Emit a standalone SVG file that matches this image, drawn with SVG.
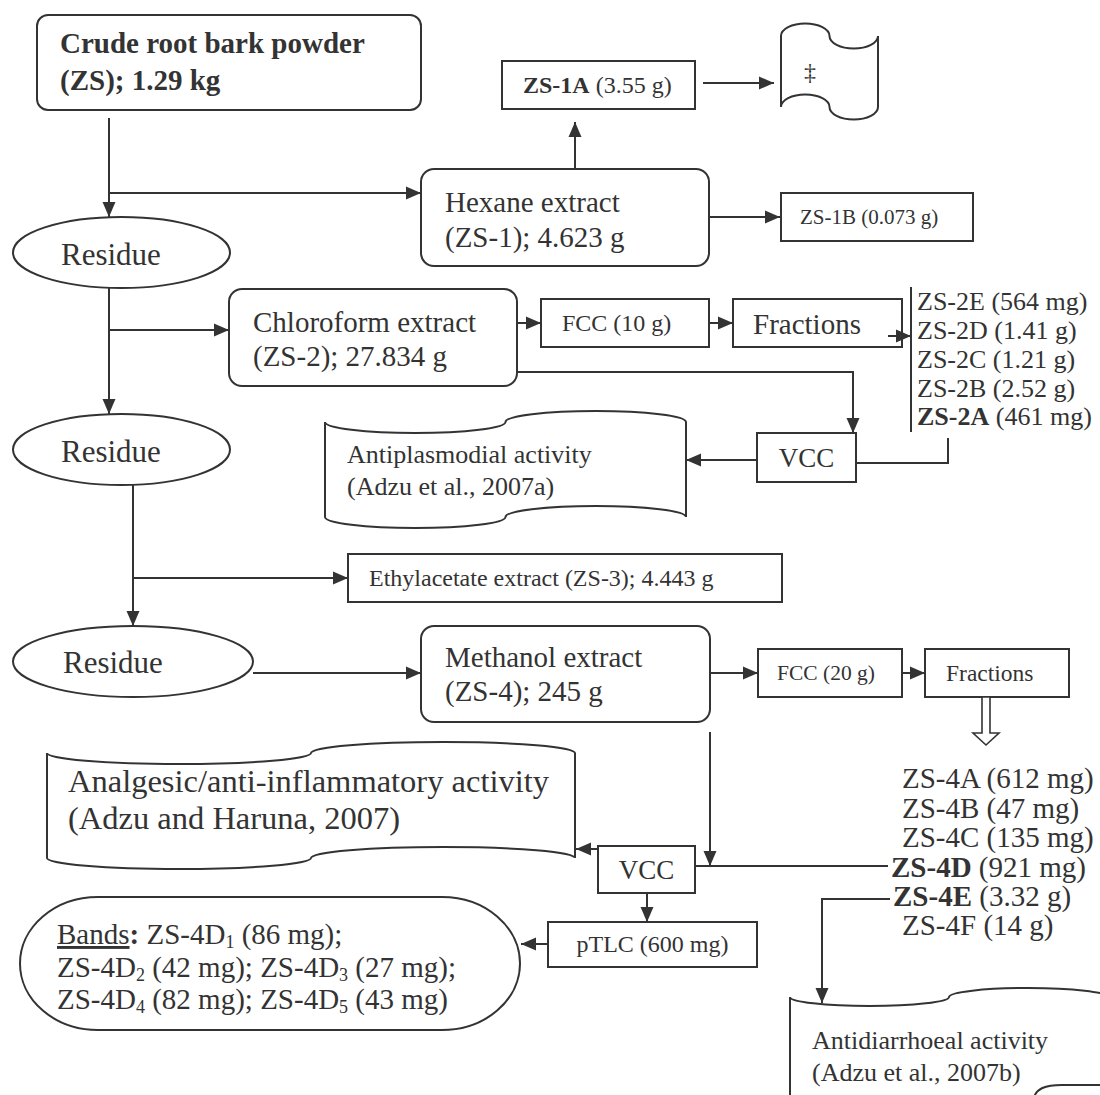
<svg xmlns="http://www.w3.org/2000/svg" width="1100" height="1095" viewBox="0 0 1100 1095">
<style>
.box{fill:#fff;stroke:#333;stroke-width:2}
.ln{fill:none;stroke:#333;stroke-width:2}
.t{font-family:"Liberation Serif","Times New Roman",serif;fill:#333}
.b{font-weight:bold}
</style>
<defs>
<marker id="ah" markerUnits="userSpaceOnUse" markerWidth="16" markerHeight="14" refX="15" refY="7" orient="auto">
<path d="M0,0.5 L15,7 L0,13.5 Z" fill="#333"/>
</marker>
</defs>
<rect width="1100" height="1095" fill="#fff"/>

<g id="crude">
<rect class="box" x="37" y="15" width="384" height="95" rx="11"/>
<text class="t b" font-size="29"><tspan x="60" y="53">Crude root bark powder</tspan><tspan x="60" y="90">(ZS); 1.29 kg</tspan></text>
</g>

<g id="zs1a">
<rect class="box" x="502" y="61" width="193" height="48"/>
<text class="t" font-size="24" x="523" y="93"><tspan class="b">ZS-1A</tspan> (3.55 g)</text>
</g>

<g id="tape">
<path class="box" d="M781,36 A24.25,12.5 0 0 1 829.5,36 A24.25,12.5 0 0 0 878,36 L878,107 A24.25,12.5 0 0 1 829.5,107 A24.25,12.5 0 0 0 781,107 Z"/>
<text class="t" font-size="24" x="804" y="80">‡</text>
</g>

<g id="hexane">
<rect class="box" x="421" y="169" width="288" height="97" rx="13"/>
<text class="t" font-size="29"><tspan x="445" y="212">Hexane extract</tspan><tspan x="445" y="247">(ZS-1); 4.623 g</tspan></text>
</g>

<g id="zs1b">
<rect class="box" x="781" y="193" width="192" height="48"/>
<text class="t" font-size="21" x="800" y="224">ZS-1B (0.073 g)</text>
</g>

<g id="residue1">
<ellipse class="box" cx="121.5" cy="252.5" rx="108.5" ry="35.5"/>
<text class="t" font-size="31" x="61" y="265">Residue</text>
</g>

<g id="chloroform">
<rect class="box" x="229" y="289" width="288" height="97" rx="13"/>
<text class="t" font-size="29"><tspan x="253" y="332">Chloroform extract</tspan><tspan x="253" y="366">(ZS-2); 27.834 g</tspan></text>
</g>

<g id="fcc10">
<rect class="box" x="541" y="299" width="168" height="48"/>
<text class="t" font-size="24" x="562" y="331">FCC (10 g)</text>
</g>

<g id="fractions1">
<rect class="box" x="733" y="299" width="169" height="48"/>
<text class="t" font-size="29" x="753" y="334">Fractions</text>
</g>

<g id="list2">
<text class="t" font-size="26">
<tspan x="917" y="310">ZS-2E (564 mg)</tspan>
<tspan x="917" y="339">ZS-2D (1.41 g)</tspan>
<tspan x="917" y="368">ZS-2C (1.21 g)</tspan>
<tspan x="917" y="397">ZS-2B (2.52 g)</tspan>
<tspan x="917" y="425"><tspan class="b">ZS-2A</tspan> (461 mg)</tspan>
</text>
</g>

<g id="residue2">
<ellipse class="box" cx="121.5" cy="449.5" rx="108.5" ry="35.5"/>
<text class="t" font-size="31" x="61" y="462">Residue</text>
</g>

<g id="antiplasmodial">
<path class="box" d="M325,422 A90.25,11 0 0 0 505.5,422 A90.25,11 0 0 1 686,422 L686,517 A90.25,11 0 0 0 505.5,517 A90.25,11 0 0 1 325,517 Z"/>
<text class="t" font-size="26"><tspan x="347" y="463">Antiplasmodial activity</tspan><tspan x="347" y="495">(Adzu et al., 2007a)</tspan></text>
</g>

<g id="vcc1">
<rect class="box" x="757" y="433" width="99" height="49"/>
<text class="t" font-size="27" x="806.5" y="467" text-anchor="middle">VCC</text>
</g>

<g id="ethylacetate">
<rect class="box" x="348" y="554" width="434" height="48"/>
<text class="t" font-size="24" x="369" y="586">Ethylacetate extract (ZS-3); 4.443 g</text>
</g>

<g id="residue3">
<ellipse class="box" cx="133" cy="661.5" rx="120" ry="35.5"/>
<text class="t" font-size="31" x="63" y="673">Residue</text>
</g>

<g id="methanol">
<rect class="box" x="421" y="626" width="289" height="96" rx="13"/>
<text class="t" font-size="29"><tspan x="445" y="667">Methanol extract</tspan><tspan x="445" y="701">(ZS-4); 245 g</tspan></text>
</g>

<g id="fcc20">
<rect class="box" x="758" y="649" width="144" height="48"/>
<text class="t" font-size="21.5" x="777" y="680">FCC (20 g)</text>
</g>

<g id="fractions2">
<rect class="box" x="925" y="649" width="144" height="48"/>
<text class="t" font-size="23.5" x="946" y="681">Fractions</text>
</g>

<g id="list4">
<text class="t" font-size="29">
<tspan x="902" y="788">ZS-4A (612 mg)</tspan>
<tspan x="902" y="818">ZS-4B (47 mg)</tspan>
<tspan x="902" y="847">ZS-4C (135 mg)</tspan>
<tspan x="891" y="877"><tspan class="b">ZS-4D</tspan> (921 mg)</tspan>
<tspan x="893" y="906"><tspan class="b">ZS-4E</tspan> (3.32 g)</tspan>
<tspan x="902" y="935">ZS-4F (14 g)</tspan>
</text>
</g>

<g id="analgesic">
<path class="box" d="M47,753 A132,11 0 0 0 311,753 A132,11 0 0 1 575,753 L575,858 A132,11 0 0 0 311,858 A132,11 0 0 1 47,858 Z"/>
<text class="t" font-size="32.5"><tspan x="68" y="792">Analgesic/anti-inflammatory activity</tspan><tspan x="68" y="829">(Adzu and Haruna, 2007)</tspan></text>
</g>

<g id="vcc2">
<rect class="box" x="598" y="846" width="97" height="47"/>
<text class="t" font-size="27" x="646.5" y="879" text-anchor="middle">VCC</text>
</g>

<g id="bands">
<rect class="box" x="20" y="897" width="500" height="133" rx="78" ry="66.5"/>
<text class="t" font-size="29">
<tspan x="57" y="944"><tspan text-decoration="underline">Bands</tspan><tspan class="b">:</tspan> ZS-4D<tspan font-size="18" dy="4">1</tspan><tspan dy="-4"> (86 mg);</tspan></tspan>
<tspan x="57" y="977">ZS-4D<tspan font-size="18" dy="4">2</tspan><tspan dy="-4"> (42 mg); ZS-4D</tspan><tspan font-size="18" dy="4">3</tspan><tspan dy="-4"> (27 mg);</tspan></tspan>
<tspan x="57" y="1009">ZS-4D<tspan font-size="18" dy="4">4</tspan><tspan dy="-4"> (82 mg); ZS-4D</tspan><tspan font-size="18" dy="4">5</tspan><tspan dy="-4"> (43 mg)</tspan></tspan>
</text>
</g>

<g id="ptlc">
<rect class="box" x="548" y="922" width="209" height="45"/>
<text class="t" font-size="24" x="652.5" y="952" text-anchor="middle">pTLC (600 mg)</text>
</g>

<g id="antidiarrhoeal">
<path class="box" d="M790,997 A79.5,9 0 0 0 949,997 A79.5,9 0 0 1 1108,997 L1108,1130 L790,1130 Z"/>
<text class="t" font-size="26"><tspan x="812" y="1049">Antidiarrhoeal activity</tspan><tspan x="812" y="1081">(Adzu et al., 2007b)</tspan></text>
</g>

<g id="cut-shape">
<path class="ln" d="M1034,1097 C1037,1089 1044,1085 1062,1085 H1102"/>
</g>

<g id="connectors">
<path class="ln" d="M109,118 V217" marker-end="url(#ah)"/>
<path class="ln" d="M109,193 H421" marker-end="url(#ah)"/>
<path class="ln" d="M575,169 V122" marker-end="url(#ah)"/>
<path class="ln" d="M703,83 H774" marker-end="url(#ah)"/>
<path class="ln" d="M709,217 H780" marker-end="url(#ah)"/>
<path class="ln" d="M109,288 V414" marker-end="url(#ah)"/>
<path class="ln" d="M109,330 H229" marker-end="url(#ah)"/>
<path class="ln" d="M517,323 H541" marker-end="url(#ah)"/>
<path class="ln" d="M709,323 H733" marker-end="url(#ah)"/>
<path class="ln" d="M888,336 H911" marker-end="url(#ah)"/>
<path class="ln" d="M911,287 V432"/>
<path class="ln" d="M517,372 H853 V433" marker-end="url(#ah)"/>
<path class="ln" d="M948,438 V463 H856"/>
<path class="ln" d="M757,460 H686" marker-end="url(#ah)"/>
<path class="ln" d="M133,485 V626" marker-end="url(#ah)"/>
<path class="ln" d="M133,578 H348" marker-end="url(#ah)"/>
<path class="ln" d="M253,673 H421" marker-end="url(#ah)"/>
<path class="ln" d="M710,673 H758" marker-end="url(#ah)"/>
<path class="ln" d="M902,673 H925" marker-end="url(#ah)"/>
<polygon points="982,697 982,733 973,733 986,745 999,733 990,733 990,697" fill="#fff" stroke="#333" stroke-width="1.6"/>
<path class="ln" d="M710,732 V866" marker-end="url(#ah)"/>
<path class="ln" d="M888,866 H695"/>
<path class="ln" d="M598,849 H576" marker-end="url(#ah)"/>
<path class="ln" d="M647,893 V922" marker-end="url(#ah)"/>
<path class="ln" d="M548,944 H521" marker-end="url(#ah)"/>
<path class="ln" d="M890,899 H822 V1003" marker-end="url(#ah)"/>
</g>
</svg>
